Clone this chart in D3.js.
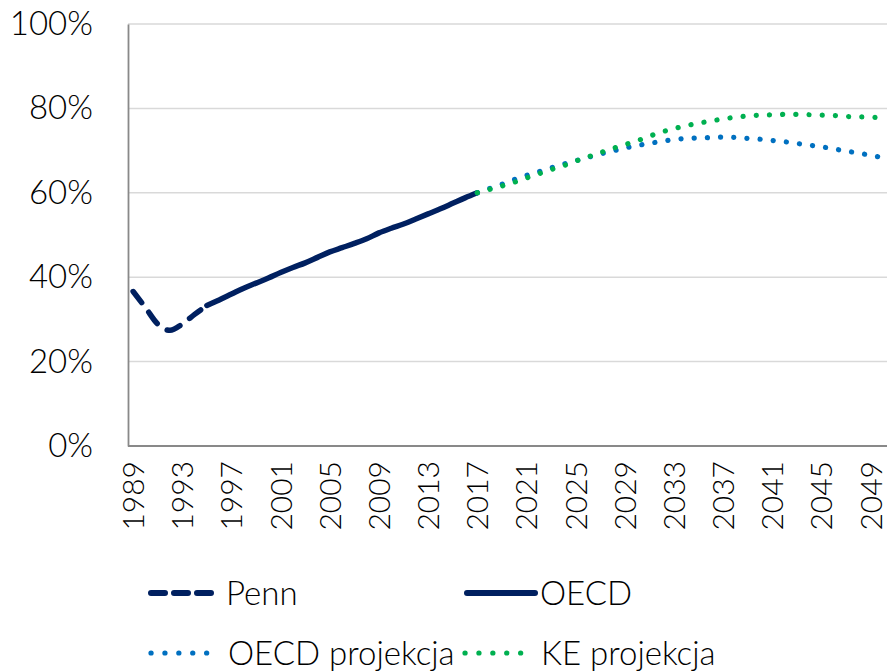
<!DOCTYPE html>
<html>
<head>
<meta charset="utf-8">
<script src="https://cdn.jsdelivr.net/npm/d3@7"></script>
<style>
  body { margin: 0; background: #fff; }
  text { font-family: Lato, "Open Sans", sans-serif; font-weight: 300; fill: #000; }
</style>
</head>
<body>
<svg id="graph"></svg>
<script>
// years on the category axis
var years = d3.range(1989, 2051);
var yearTicks = d3.range(1989, 2050, 4);
var yTicks = [0, 0.2, 0.4, 0.6, 0.8, 1.0];

// Penn (dashed), 1989-1995
var pennYears = [1989, 1990, 1991, 1992, 1993, 1994, 1995];
var pennValues = [0.366, 0.328, 0.289, 0.274, 0.289, 0.312, 0.333];

// OECD (solid), 1995-2017
var oecdYears = d3.range(1995, 2018);
var oecdValues = [0.333, 0.346, 0.360, 0.374, 0.386, 0.398, 0.411, 0.423, 0.434, 0.447, 0.460,
                  0.470, 0.480, 0.491, 0.505, 0.516, 0.526, 0.538, 0.550, 0.562, 0.575, 0.588, 0.600];

// projections, 2017-2050
var projYears = d3.range(2017, 2051);
var oecdProj = [0.600, 0.610, 0.620, 0.631, 0.641, 0.650, 0.659, 0.668, 0.676, 0.684, 0.692,
                0.699, 0.706, 0.712, 0.717, 0.722, 0.726, 0.729, 0.730, 0.731, 0.732, 0.731,
                0.729, 0.727, 0.724, 0.721, 0.717, 0.713, 0.709, 0.704, 0.699, 0.694, 0.689, 0.683];
var keProj = [0.600, 0.608, 0.616, 0.625, 0.635, 0.645, 0.655, 0.664, 0.675, 0.685, 0.695,
              0.705, 0.714, 0.723, 0.734, 0.744, 0.752, 0.759, 0.765, 0.770, 0.775, 0.779,
              0.782, 0.784, 0.785, 0.786, 0.786, 0.785, 0.784, 0.783, 0.781, 0.780, 0.779, 0.778];

var navy = "#002060", blue = "#0070C0", green = "#00B050";

var w = 887, h = 671;
var svg = d3.select("#graph").attr("width", w).attr("height", h);

// categories sit between tick marks, plot runs off the right edge a little
var x = d3.scalePoint().domain(years).range([127, 889]).padding(0.5);
var y = d3.scaleLinear().domain([0, 1]).range([446, 24]);

// gridlines
svg.append("g").selectAll("line")
    .data(yTicks.slice(1))
    .enter().append("line")
    .attr("x1", 128).attr("x2", 887)
    .attr("y1", function(d){ return y(d); })
    .attr("y2", function(d){ return y(d); })
    .attr("stroke", "#d9d9d9")
    .attr("stroke-width", 1.5);

// y axis
var axisY = d3.axisLeft(y).tickValues(yTicks).tickFormat(d3.format(".0%")).tickSize(0).tickPadding(35);
var gy = svg.append("g").attr("transform", "translate(128,0)").call(axisY);
gy.select(".domain").attr("stroke", "#898989").attr("stroke-width", 1.8);
gy.selectAll("text").attr("font-size", 33).attr("font-family", null);

// x axis
var axisX = d3.axisBottom(x).tickValues(yearTicks).tickSize(0).tickPadding(14);
var gx = svg.append("g").attr("transform", "translate(0,446)").call(axisX);
gx.select(".domain").attr("stroke", "#898989").attr("stroke-width", 1.8).attr("d", "M128,0H887");
gx.selectAll("text")
    .attr("font-size", 30)
    .attr("font-family", null)
    .attr("text-anchor", "end")
    .attr("dy", "0.35em")
    .attr("x", -15)
    .attr("y", 0)
    .attr("transform", "rotate(-90)");

function lineFor(xs){
    return d3.line()
        .x(function(d, i){ return x(xs[i]); })
        .y(function(d){ return y(d); })
        .curve(d3.curveMonotoneX);
}

var curves = svg.append("g");

curves.append("path")
    .attr("d", lineFor(pennYears)(pennValues))
    .attr("fill", "none").attr("stroke", navy).attr("stroke-width", 5.5)
    .attr("stroke-linecap", "round").attr("stroke-dasharray", "14,12");

curves.append("path")
    .attr("d", lineFor(oecdYears)(oecdValues))
    .attr("fill", "none").attr("stroke", navy).attr("stroke-width", 5.5)
    .attr("stroke-linecap", "round");

curves.append("path")
    .attr("d", lineFor(projYears)(oecdProj))
    .attr("fill", "none").attr("stroke", blue).attr("stroke-width", 5.2)
    .attr("stroke-linecap", "round").attr("stroke-dasharray", "0.1,13.1");

curves.append("path")
    .attr("d", lineFor(projYears)(keProj))
    .attr("fill", "none").attr("stroke", green).attr("stroke-width", 5.2)
    .attr("stroke-linecap", "round").attr("stroke-dasharray", "0.1,13.1");

// legend
var legendItems = [
    {label: "Penn", color: navy, dash: "14,9", width: 6, x1: 151, x2: 218, tx: 226, y: 593},
    {label: "OECD", color: navy, dash: null, width: 6, x1: 467, x2: 535, tx: 540, y: 593},
    {label: "OECD projekcja", color: blue, dash: "0.1,13.8", width: 5.2, x1: 151, x2: 207, tx: 228, y: 653},
    {label: "KE projekcja", color: green, dash: "0.1,13.8", width: 5.2, x1: 465, x2: 521, tx: 541, y: 653}
];

var legend = svg.append("g").selectAll("g").data(legendItems).enter().append("g");
legend.append("line")
    .attr("x1", function(d){ return d.x1; })
    .attr("x2", function(d){ return d.x2; })
    .attr("y1", function(d){ return d.y; })
    .attr("y2", function(d){ return d.y; })
    .attr("stroke", function(d){ return d.color; })
    .attr("stroke-width", function(d){ return d.width; })
    .attr("stroke-linecap", "round")
    .attr("stroke-dasharray", function(d){ return d.dash; });
legend.append("text")
    .attr("x", function(d){ return d.tx; })
    .attr("y", function(d){ return d.y; })
    .attr("dy", "0.35em")
    .attr("font-size", 33)
    .text(function(d){ return d.label; });
</script>
</body>
</html>
